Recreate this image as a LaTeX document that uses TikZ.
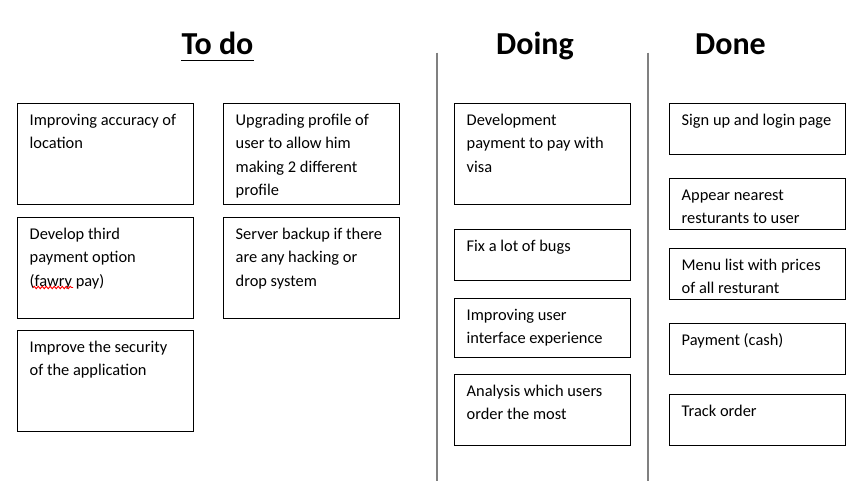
\documentclass[tikz,border=0pt]{standalone}
\usepackage{fontspec}
\setmainfont{Carlito}
\usetikzlibrary{decorations.pathmorphing}
\newcommand{\cardfont}{\fontsize{16.4}{23.3}\selectfont}
\newcommand{\titlefont}{\fontsize{32}{38}\selectfont\bfseries}
\tikzset{
  card/.style={draw=black, line width=1pt, minimum width=176pt, minimum height=#1, anchor=north west, inner sep=0pt, outer sep=0pt},
  cardtext/.style={anchor=north west, inner sep=0pt, align=left, font=\cardfont, xshift=12pt, yshift=-5.6pt},
  coltitle/.style={anchor=base, inner sep=0pt, font=\titlefont},
  divider/.style={draw=black!50, line width=2pt},
}
\begin{document}
\begin{tikzpicture}[x=1pt,y=-1pt]
\useasboundingbox[fill=white] (0,0) rectangle (867,481);
% titles
\node[coltitle] (tTodo) at (217.5,55) {To do};
\draw[line width=1.6pt] (tTodo.base west) ++(0,5.7) coordinate (ulA) -- (tTodo.base east |- ulA);
\node[coltitle] (tDoing) at (535,55) {Doing};
\node[coltitle] (tDone) at (730.5,55) {Done};
% dividers
\coordinate (d1t) at (437,52.7); \coordinate (d1b) at (437,481);
\coordinate (d2t) at (648,52.7); \coordinate (d2b) at (648,481);
\draw[divider] (d1t) -- (d1b);
\draw[divider] (d2t) -- (d2b);
% To do column
\node[card=101pt] (A) at (17.5,103.5) {};
\node[cardtext] (tA) at (A.north west) {\strut Improving accuracy of\\location};
\node[card=101pt] (B) at (223.5,103.5) {};
\node[cardtext] (tB) at (B.north west) {\strut Upgrading profile of\\user to allow him\\making 2 different\\profile};
\node[card=101pt] (C) at (17.5,217.5) {};
\node[cardtext] (tC) at (C.north west) {\strut Develop third\\payment option\\(fawry pay)};
\node[card=101pt] (D) at (223.5,217.5) {};
\node[cardtext] (tD) at (D.north west) {\strut Server backup if there\\are any hacking or\\drop system};
\node[card=101pt] (E) at (17.5,330.5) {};
\node[cardtext] (tE) at (E.north west) {\strut Improve the security\\of the application};
% spell-check squiggle under "fawry"
\coordinate (sq1) at (33,287.5); \coordinate (sq2) at (73,287.5);
\draw[red, line width=0.9pt, decorate, decoration={snake, amplitude=1.2pt, segment length=4pt}] (sq1) -- (sq2);
% Doing column
\node[card=101pt] (F) at (454.5,103.5) {};
\node[cardtext] (tF) at (F.north west) {\strut Development\\payment to pay with\\visa};
\node[card=51pt] (I) at (454.5,229.5) {};
\node[cardtext] (tI) at (I.north west) {\strut Fix a lot of bugs};
\node[card=59pt] (J) at (454.5,298.5) {};
\node[cardtext] (tJ) at (J.north west) {\strut Improving user\\interface experience};
\node[card=71pt] (K) at (454.5,374.5) {};
\node[cardtext] (tK) at (K.north west) {\strut Analysis which users\\order the most};
% Done column
\node[card=51pt] (G) at (669.5,103.5) {};
\node[cardtext] (tG) at (G.north west) {\strut Sign up and login page};
\node[card=51pt] (H) at (669.5,178.5) {};
\node[cardtext] (tH) at (H.north west) {\strut Appear nearest\\resturants to user};
\node[card=51pt] (L) at (669.5,248.5) {};
\node[cardtext] (tL) at (L.north west) {\strut Menu list with prices\\of all resturant};
\node[card=51pt] (M) at (669.5,323.5) {};
\node[cardtext] (tM) at (M.north west) {\strut Payment (cash)};
\node[card=51pt] (N) at (669.5,394.5) {};
\node[cardtext] (tN) at (N.north west) {\strut Track order};
\end{tikzpicture}
\end{document}
